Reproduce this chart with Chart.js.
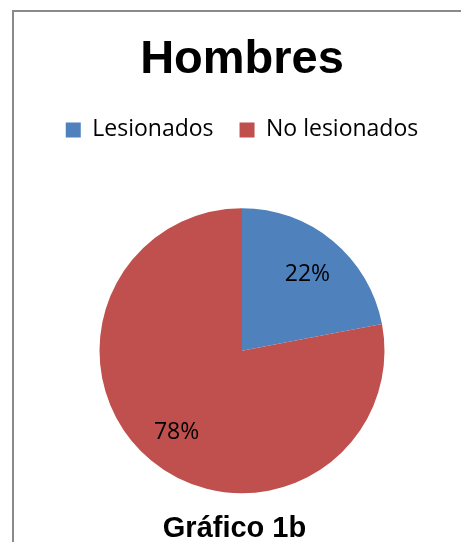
<!DOCTYPE html>
<html>
<head>
<meta charset="utf-8">
<script src="https://cdn.jsdelivr.net/npm/chart.js@4"></script>
<style>
  html, body { margin: 0; padding: 0; background: #fff; overflow: hidden; }
  #frame {
    position: absolute; left: 12px; top: 10px;
    width: 480px; height: 560px;
    border: 2px solid #8a8a8a; box-sizing: border-box;
  }
  #wrap { position: absolute; left: 0; top: 0; width: 461px; height: 550px; }
</style>
</head>
<body>
<div id="frame"></div>
<div id="wrap"><canvas id="canvas"></canvas></div>
<script>
  const chartTitle = 'Hombres';
  const caption = 'Gráfico 1b';
  const categories = ['Lesionados', 'No lesionados'];
  const percents = [22, 78];
  const sliceColors = ['#4F81BD', '#C0504D'];

  // percentage text inside each slice
  const sliceLabels = {
    id: 'sliceLabels',
    afterDatasetsDraw(chart) {
      const ctx = chart.ctx;
      const meta = chart.getDatasetMeta(0);
      ctx.save();
      ctx.font = '23px "Open Sans"';
      ctx.fillStyle = '#000';
      ctx.textAlign = 'center';
      ctx.textBaseline = 'middle';
      meta.data.forEach((arc, i) => {
        const p = arc.getProps(['x', 'y', 'startAngle', 'endAngle', 'outerRadius'], true);
        const mid = (p.startAngle + p.endAngle) / 2;
        const r = p.outerRadius * 0.72;
        ctx.fillText(percents[i] + '%', p.x + Math.cos(mid) * r, p.y + Math.sin(mid) * r + 3);
      });
      ctx.restore();
    }
  };

  // caption under the pie
  const captionText = {
    id: 'captionText',
    afterDraw(chart) {
      const ctx = chart.ctx;
      ctx.save();
      ctx.font = 'bold 29px "Liberation Sans"';
      ctx.fillStyle = '#000';
      ctx.textAlign = 'center';
      ctx.textBaseline = 'alphabetic';
      ctx.fillText(caption, 234.5, 537);
      ctx.restore();
    }
  };

  new Chart(document.getElementById('canvas'), {
    type: 'pie',
    data: {
      labels: categories,
      datasets: [{
        data: percents,
        backgroundColor: sliceColors,
        borderWidth: 0,
        radius: 142.5
      }]
    },
    options: {
      responsive: true,
      maintainAspectRatio: false,
      animation: false,
      layout: { padding: { left: 23, right: 0, top: 0, bottom: 0 } },
      plugins: {
        title: {
          display: true,
          text: chartTitle,
          color: '#000',
          font: { family: 'Liberation Sans', size: 47, weight: 'bold', lineHeight: 1.2 },
          padding: { top: 32, bottom: 4 }
        },
        legend: {
          position: 'top',
          labels: {
            color: '#000',
            font: { family: 'Open Sans', size: 23 },
            boxWidth: 15,
            boxHeight: 15,
            padding: 26
          }
        },
        tooltip: { enabled: false }
      }
    },
    plugins: [sliceLabels, captionText]
  });
</script>
</body>
</html>
